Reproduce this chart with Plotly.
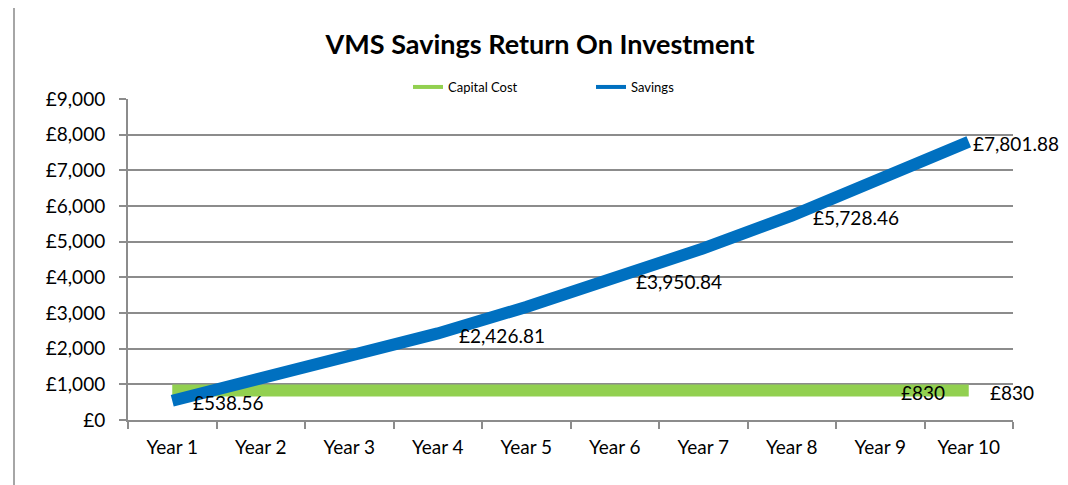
import plotly.graph_objects as go

years = ["Year 1", "Year 2", "Year 3", "Year 4", "Year 5",
         "Year 6", "Year 7", "Year 8", "Year 9", "Year 10"]
capital_cost = [830, 830, 830, 830, 830, 830, 830, 830, 830, 830]
savings = [538.56, 1150, 1775, 2426.81, 3170, 3950.84, 4810, 5728.46, 6740, 7801.88]
capital_labels = ["", "", "", "", "", "", "", "", "£830", "£830"]
savings_labels = ["£538.56", "", "", "£2,426.81", "", "£3,950.84", "", "£5,728.46", "", "£7,801.88"]

FONT = "Lato, Calibri, 'DejaVu Sans', sans-serif"
GREEN = "#92D050"
BLUE = "#0070C0"

# page body has an 8px default margin; figure sized so the plot lands where the reference has it
W, H = 1060, 477
PX0, PY0 = 8, 8

fig = go.Figure()
fig.add_trace(go.Scatter(x=years, y=capital_cost, name="Capital Cost", mode="lines",
                         line=dict(color=GREEN, width=12), showlegend=False))
fig.add_trace(go.Scatter(x=years, y=savings, name="Savings", mode="lines",
                         line=dict(color=BLUE, width=12), showlegend=False))
fig.add_trace(go.Scatter(x=[None], y=[None], name="Capital Cost", mode="lines",
                         line=dict(color=GREEN, width=4)))
fig.add_trace(go.Scatter(x=[None], y=[None], name="Savings", mode="lines",
                         line=dict(color=BLUE, width=4)))

annotations = []
for series, labels in ((capital_cost, capital_labels), (savings, savings_labels)):
    n = len(labels)
    for i, (xv, yv, lab) in enumerate(zip(years, series, labels)):
        if lab:
            shift = 19
            if series is savings and i == n - 1:
                shift = 2
            annotations.append(dict(x=xv, y=yv, text=lab, showarrow=False,
                                    xanchor="left", yanchor="middle", xshift=shift, yshift=-2,
                                    font=dict(size=19, family=FONT, color="#000000")))

fig.update_layout(
    width=W, height=H,
    margin=dict(l=128 - PX0, r=55, t=99 - PY0, b=65, autoexpand=False),
    paper_bgcolor="white", plot_bgcolor="white",
    font=dict(family=FONT, color="#000000", size=19),
    title=dict(text="<b>VMS Savings Return On Investment</b>", x=(540 - PX0) / W, xanchor="center",
               y=1 - (45 - PY0) / H, yanchor="middle", font=dict(size=27, family=FONT)),
    legend=dict(orientation="h", x=(408 - 128) / 885, xanchor="left", y=1 + 12 / 321, yanchor="middle",
                font=dict(size=13), bgcolor="rgba(0,0,0,0)", entrywidth=138, entrywidthmode="pixels",
                traceorder="normal"),
    showlegend=True,
    annotations=annotations,
    shapes=[dict(type="rect", xref="paper", yref="paper",
                 x0=(14 - 128) / 885, x1=(1066 - 128) / 885,
                 y0=(420 - 495) / 321, y1=(420 - 6) / 321,
                 line=dict(color="#a6a6a6", width=2), layer="below")],
)
fig.update_xaxes(
    type="category", range=[-0.5, 9.5], tickson="boundaries",
    showline=True, linecolor="#8c8c8c", linewidth=2,
    ticks="outside", ticklen=7, tickcolor="#8c8c8c", tickwidth=2,
    showgrid=False, tickfont=dict(size=19), ticklabelstandoff=9,
)
fig.update_yaxes(
    range=[0, 9000], dtick=1000, tickprefix="£", tickformat=",",
    showline=True, linecolor="#8c8c8c", linewidth=2,
    ticks="outside", ticklen=7, tickcolor="#8c8c8c", tickwidth=2,
    showgrid=True, gridcolor="#8c8c8c", gridwidth=1.5,
    tickfont=dict(size=19), zeroline=False, ticklabelstandoff=10,
)

fig.write_html("out.html")
